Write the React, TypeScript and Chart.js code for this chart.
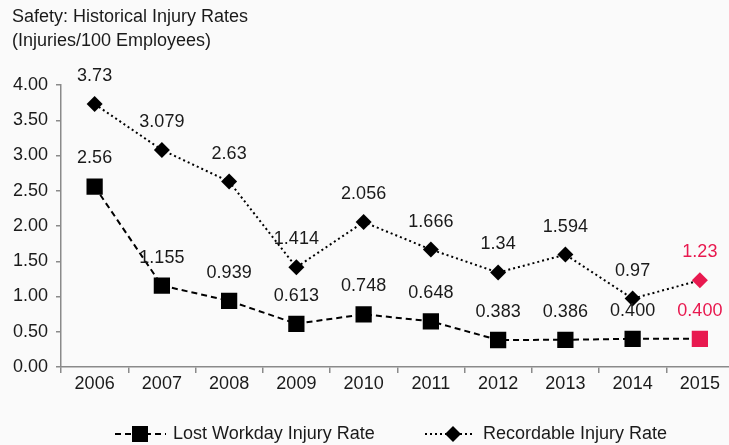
import React, { useEffect, useRef } from "react";
import { Chart, registerables } from "chart.js";

Chart.register(...registerables);

const categories = ["2006", "2007", "2008", "2009", "2010", "2011", "2012", "2013", "2014", "2015"];
const lostWorkday = [2.56, 1.155, 0.939, 0.613, 0.748, 0.648, 0.383, 0.386, 0.4, 0.4];
const lostWorkdayLabels = ["2.56", "1.155", "0.939", "0.613", "0.748", "0.648", "0.383", "0.386", "0.400", "0.400"];
const recordable = [3.73, 3.079, 2.63, 1.414, 2.056, 1.666, 1.34, 1.594, 0.97, 1.23];
const recordableLabels = ["3.73", "3.079", "2.63", "1.414", "2.056", "1.666", "1.34", "1.594", "0.97", "1.23"];
const titleLines = ["Safety: Historical Injury Rates", "(Injuries/100 Employees)"];
const seriesNames = ["Lost Workday Injury Rate", "Recordable Injury Rate"];

const FONT = "'Liberation Sans', Arial, Helvetica, sans-serif";
const FS = 18;
const BLACK = "#000000";
const RED = "#e8194f";
const AXIS = "#8a8a8a";
const TEXT = "#1a1a1a";
const BG = "#fafafa";

const pointColors = (n: number) => Array.from({ length: n }, (_, i) => (i === n - 1 ? RED : BLACK));

export default function App() {
  const ref = useRef<HTMLCanvasElement | null>(null);

  useEffect(() => {
    document.body.style.overflow = "hidden";
    const canvas = ref.current;
    if (!canvas) return;

    const customDraw = {
      id: "customDraw",
      beforeDraw(chart: any) {
        const ctx = chart.ctx;
        ctx.save();
        ctx.fillStyle = BG;
        ctx.fillRect(0, 0, chart.width, chart.height);
        ctx.restore();
      },
      afterDraw(chart: any) {
        const ctx = chart.ctx;
        ctx.save();
        // title
        ctx.fillStyle = TEXT;
        ctx.font = `${FS}px ${FONT}`;
        ctx.textAlign = "left";
        ctx.textBaseline = "middle";
        ctx.fillText(titleLines[0], 12, 17);
        ctx.fillText(titleLines[1], 12, 41);

        // data labels
        const labelSets = [lostWorkdayLabels, recordableLabels];
        chart.data.datasets.forEach((ds: any, di: number) => {
          const meta = chart.getDatasetMeta(di);
          meta.data.forEach((pt: any, i: number) => {
            ctx.fillStyle = i === meta.data.length - 1 ? RED : TEXT;
            ctx.textAlign = "center";
            ctx.textBaseline = "middle";
            ctx.font = `${FS}px ${FONT}`;
            ctx.fillText(labelSets[di][i], pt.x, pt.y - 28);
          });
        });

        // legend
        const ly = 434;
        // lost workday
        ctx.strokeStyle = BLACK;
        ctx.lineWidth = 2;
        ctx.setLineDash([6, 4]);
        ctx.beginPath();
        ctx.moveTo(115, ly);
        ctx.lineTo(166, ly);
        ctx.stroke();
        ctx.setLineDash([]);
        ctx.fillStyle = BLACK;
        ctx.fillRect(132, ly - 8, 16, 16);
        ctx.fillStyle = TEXT;
        ctx.textAlign = "left";
        ctx.textBaseline = "middle";
        ctx.fillText(seriesNames[0], 173, ly);
        // recordable
        ctx.setLineDash([2, 3]);
        ctx.beginPath();
        ctx.moveTo(425, ly);
        ctx.lineTo(474, ly);
        ctx.stroke();
        ctx.setLineDash([]);
        ctx.fillStyle = BLACK;
        ctx.beginPath();
        ctx.moveTo(453 - 8, ly);
        ctx.lineTo(453, ly - 8);
        ctx.lineTo(453 + 8, ly);
        ctx.lineTo(453, ly + 8);
        ctx.closePath();
        ctx.fill();
        ctx.fillStyle = TEXT;
        ctx.fillText(seriesNames[1], 483, ly);
        ctx.restore();
      },
    };

    const chart = new Chart(canvas, {
      type: "line",
      data: {
        labels: categories,
        datasets: [
          {
            label: seriesNames[0],
            data: lostWorkday,
            borderColor: BLACK,
            borderWidth: 2,
            borderDash: [6, 4],
            pointStyle: "rect",
            pointRadius: 11.5,
            pointHoverRadius: 11.5,
            pointBackgroundColor: pointColors(lostWorkday.length),
            pointBorderColor: pointColors(lostWorkday.length),
            pointBorderWidth: 0,
            tension: 0,
            fill: false,
          },
          {
            label: seriesNames[1],
            data: recordable,
            borderColor: BLACK,
            borderWidth: 2,
            borderDash: [2, 3],
            pointStyle: "rectRot",
            pointRadius: 8,
            pointHoverRadius: 8,
            pointBackgroundColor: pointColors(recordable.length),
            pointBorderColor: pointColors(recordable.length),
            pointBorderWidth: 0,
            tension: 0,
            fill: false,
          },
        ],
      },
      options: {
        animation: false,
        responsive: false,
        layout: { padding: { top: 85, right: 6, left: 0, bottom: 0 } },
        plugins: {
          legend: { display: false },
          title: { display: false },
          tooltip: { enabled: false },
        },
        scales: {
          x: {
            type: "category",
            offset: true,
            afterFit: (s: any) => {
              s.height = 78;
            },
            grid: {
              display: true,
              offset: true,
              drawOnChartArea: false,
              drawTicks: true,
              tickLength: 6,
              color: AXIS,
              lineWidth: 1.5,
            },
            border: { display: true, color: AXIS, width: 1.5 },
            ticks: {
              color: TEXT,
              font: { family: FONT, size: FS },
              padding: 0,
              maxRotation: 0,
              autoSkip: false,
            },
          },
          y: {
            min: 0,
            max: 4,
            afterFit: (s: any) => {
              s.width = 61;
            },
            grid: {
              display: true,
              drawOnChartArea: false,
              drawTicks: true,
              tickLength: 5,
              color: AXIS,
              lineWidth: 1.5,
            },
            border: { display: true, color: AXIS, width: 1.5 },
            ticks: {
              stepSize: 0.5,
              color: TEXT,
              font: { family: FONT, size: FS },
              padding: 8,
              callback: (v: any) => Number(v).toFixed(2),
            },
          },
        },
      },
      plugins: [customDraw],
    } as any);

    return () => chart.destroy();
  }, []);

  return (
    <div style={{ position: "absolute", left: 0, top: 0, width: 745, height: 445, overflow: "hidden" }}>
      <canvas ref={ref} width={745} height={445} style={{ display: "block" }} />
    </div>
  );
}
